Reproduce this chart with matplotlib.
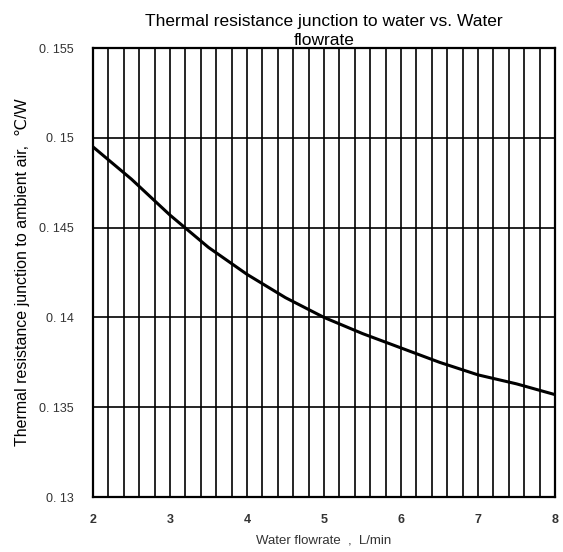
import numpy as np
import matplotlib.pyplot as plt
from matplotlib.ticker import MultipleLocator

plt.rcParams['font.family'] = ['Liberation Sans', 'DejaVu Sans']

# values
flow = [2.0, 2.5, 3.0, 3.5, 4.0, 4.5, 5.0, 5.5, 6.0, 6.5, 7.0, 7.5, 8.0]
rth = [0.1495, 0.1477, 0.1457, 0.1439, 0.1424, 0.1411, 0.1400,
       0.1391, 0.1383, 0.1375, 0.1368, 0.1363, 0.1357]

yticks = [0.13, 0.135, 0.14, 0.145, 0.15, 0.155]
ytick_labels = ['0. 13', '0. 135', '0. 14', '0. 145', '0. 15', '0. 155']
xticks = [2, 3, 4, 5, 6, 7, 8]

fig = plt.figure(figsize=(5.63, 5.52), dpi=100)
ax = fig.add_axes([0.165, 0.0996, 0.821, 0.8134])

ax.plot(flow, rth, color='black', linewidth=2.2, zorder=3)

ax.set_xlim(2, 8)
ax.set_ylim(0.13, 0.155)
ax.set_xticks(xticks)
ax.set_xticklabels([str(v) for v in xticks], fontweight='bold')
ax.set_yticks(yticks)
ax.set_yticklabels(ytick_labels)
ax.xaxis.set_minor_locator(MultipleLocator(0.2))

ax.grid(True, which='major', color='black', linewidth=1.2)
ax.grid(True, which='minor', axis='x', color='black', linewidth=1.2)
ax.tick_params(which='both', length=0, labelsize=9, colors='#333333')
ax.tick_params(axis='x', pad=12)
ax.tick_params(axis='y', pad=14)
for sp in ax.spines.values():
    sp.set_linewidth(1.6)
    sp.set_color('black')

ax.set_title('Thermal resistance junction to water vs. Water\nflowrate',
             fontsize=12.5, linespacing=1.3, pad=0)
ax.set_xlabel('Water flowrate  ,  L/min', fontsize=9.5, color='#333333', labelpad=6)
ax.set_ylabel('Thermal resistance junction to ambient air,  \u2103/W',
              fontsize=11.5, labelpad=6)

fig.savefig('out.png', dpi=100)
